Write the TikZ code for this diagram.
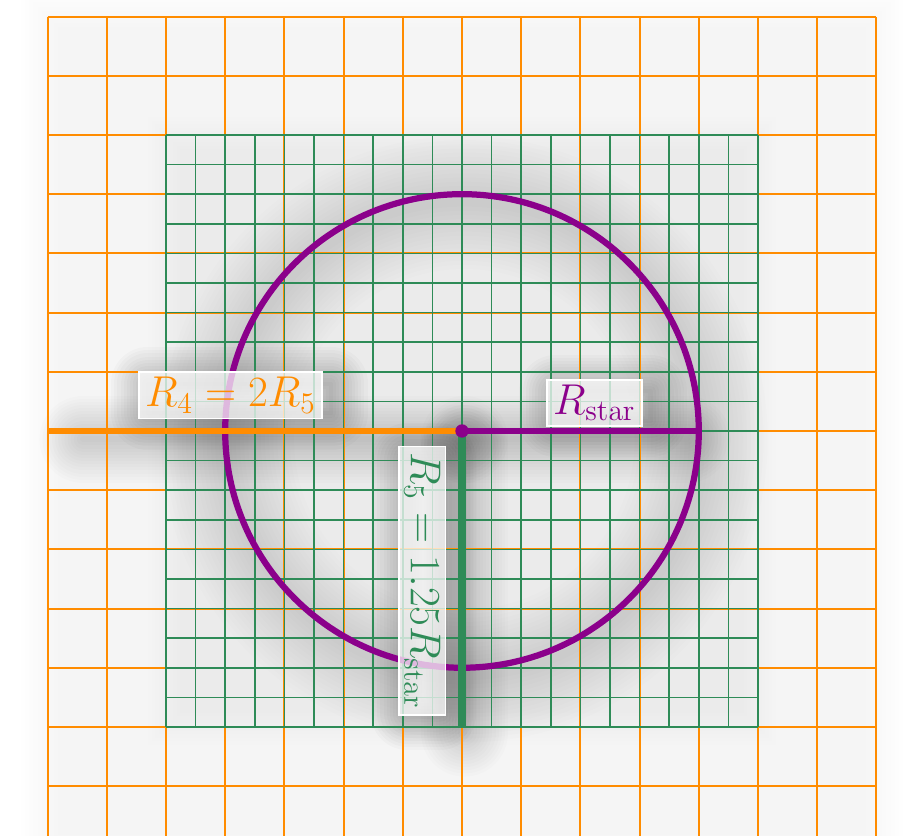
\documentclass[tikz,border=0pt]{standalone}
\usetikzlibrary{calc}
\definecolor{org}{HTML}{FF8C00}
\definecolor{grn}{HTML}{2E8B57}
\definecolor{pur}{HTML}{8B008B}
\tikzset{
  gridorg/.style={draw=org, line width=0.9pt},
  gridgrn/.style={draw=grn, line width=0.8pt, step=0.5},
  thickline/.style={line width=3pt},
  lbl/.style={fill=white, fill opacity=0.72, text opacity=1, draw=white, draw opacity=1, line width=0.8pt, inner xsep=3pt, inner ysep=2.5pt, font=\huge},
  shd/.style={black, opacity=0.012},
}
\begin{document}
\begin{tikzpicture}[x=1cm,y=1cm]
\useasboundingbox (-7.804,-6.841) rectangle (7.534,7.280);
\clip (-7.804,-6.841) rectangle (7.534,7.280);
\fill[white] (-7.804,-6.841) rectangle (7.534,7.280);

% named points
\coordinate (O) at (0,0);
\coordinate (L) at (-7,0);
\coordinate (P) at (4,0);
\coordinate (G) at (0,-5);

% soft backdrop of the orange grid
\foreach \k in {0,1,...,9}
  \fill[black, opacity=0.0042] (-7.45+0.07*\k,-7.45+0.07*\k) rectangle (7.45-0.07*\k,7.45-0.07*\k);
% soft backdrop of the green grid
\foreach \k in {0,1,...,9}
  \fill[black, opacity=0.005] (-5.3+0.06*\k,-5.3+0.06*\k) rectangle (5.3-0.06*\k,5.3-0.06*\k);

% shadow of the circle
\foreach \w in {4,8,...,64}
  \draw[shd, opacity=0.009, line width=\w pt] ($(O)+(0.04,-0.14)$) circle (4);
% shadows of the thick lines
\foreach \w in {3,6,...,42}
  \draw[shd, line width=\w pt, line cap=round] ($(L)+(0.6,-0.14)$) -- ($(O)+(0.04,-0.14)$);
\foreach \w in {3,6,...,42}
  \draw[shd, line width=\w pt, line cap=round] ($(O)+(0.04,-0.14)$) -- ($(P)+(-0.2,-0.14)$);
\foreach \w in {3,6,...,42}
  \draw[shd, line width=\w pt, line cap=round] ($(O)+(0.04,-0.3)$) -- ($(G)+(0.04,-0.1)$);

% label positions
\coordinate (l4) at (-3.91,0.60);
\coordinate (ls) at (2.235,0.473);
\coordinate (l5) at (-0.67,-2.53);
% label shadows
\foreach \w in {2,5,...,35}
  \draw[shd, opacity=0.018, line width=\w pt, line join=round] ($(l4)+(-1.4,-0.3)$) rectangle ($(l4)+(1.7,0.2)$);
\foreach \w in {2,5,...,35}
  \draw[shd, opacity=0.018, line width=\w pt, line join=round] ($(ls)+(-0.65,-0.3)$) rectangle ($(ls)+(0.95,0.2)$);
\foreach \w in {2,5,...,35}
  \draw[shd, opacity=0.018, line width=\w pt, line join=round] ($(l5)+(-0.25,-2.25)$) rectangle ($(l5)+(0.3,2.05)$);

% grids
\draw[gridorg] (-7,-7) grid (7,7);
\draw[gridgrn] (-5,-5) grid (5,5);

% circle
\draw[pur, thickline] (O) circle (4);

% radii
\draw[org, thickline, line width=3.2pt] (L) -- (O);
\draw[pur, thickline, line width=3.2pt] (O) -- (P);
\draw[grn, thickline, line width=3.5pt] (O) -- (G);
\fill[pur] (O) circle (3.2pt);

% labels
\node[lbl, text=org] (t4) at (l4) {$R_4 = 2R_5$};
\node[lbl, text=pur] (ts) at (ls) {$R_{\mathrm{star}}$};
\node[lbl, text=grn, rotate=-90] (t5) at (l5) {$R_5 = 1.25R_{\mathrm{star}}$};
\end{tikzpicture}
\end{document}
